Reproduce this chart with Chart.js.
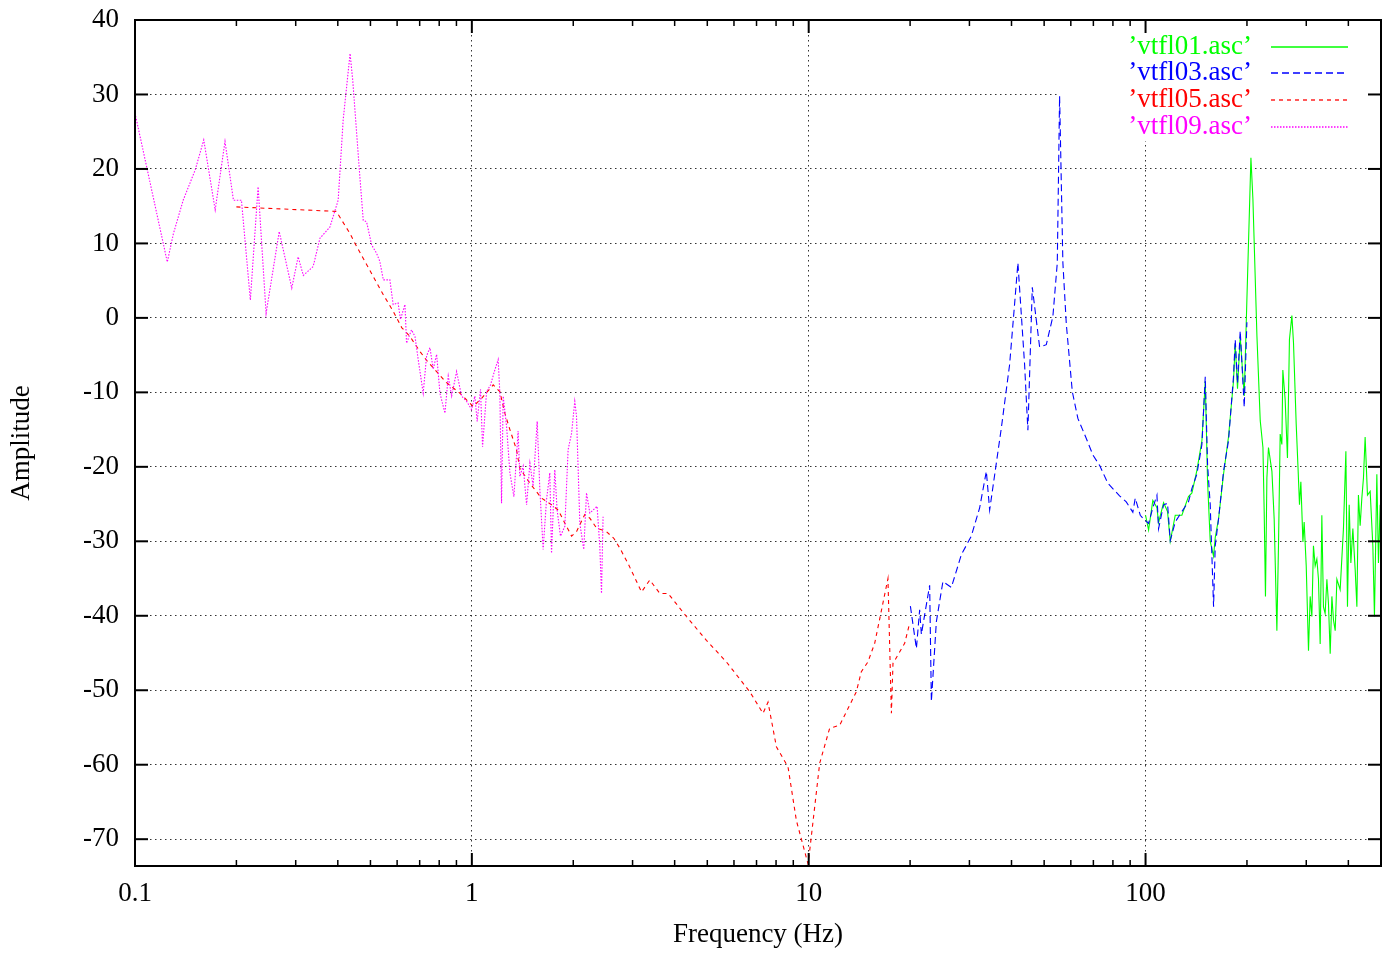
<!DOCTYPE html>
<html>
<head>
<meta charset="utf-8">
<title>vtfl amplitude</title>
<script src="https://cdn.jsdelivr.net/npm/chart.js@4.4.0/dist/chart.umd.min.js"></script>
<style>
  html, body { margin: 0; padding: 0; background: #fff; }
</style>
</head>
<body>
<canvas id="chart" width="1390" height="955"></canvas>
<script>
// Frequency (Hz) / amplitude pairs

const vtfl01Freq = [100.0, 102.1, 105.1, 108.1, 109.3, 113.1, 116.2, 118.4, 122.5, 128.2,
  134.1, 137.3, 142.0, 147.0, 150.4, 152.8, 155.6, 159.2, 161.0, 164.7,
  170.4, 176.3, 182.4, 184.6, 187.5, 191.0, 196.3, 199.9, 205.5, 208.3,
  214.1, 219.0, 223.1, 225.0, 227.0, 229.2, 231.7, 237.2, 240.9, 245.4,
  248.1, 251.0, 253.9, 255.6, 259.7, 263.8, 267.4, 271.9, 274.9, 280.0,
  283.3, 286.4, 289.1, 293.2, 295.7, 299.9, 304.6, 308.1, 311.7, 315.1,
  318.8, 322.5, 326.1, 329.9, 333.7, 337.4, 341.3, 345.4, 349.1, 353.3,
  357.4, 361.4, 365.6, 369.8, 378.2, 386.8, 393.3, 397.6, 402.3, 406.9,
  412.5, 419.1, 424.0, 428.5, 433.6, 438.6, 443.5, 448.6, 455.8, 464.3,
  472.9, 478.1, 486.0, 491.4, 497.1];
const vtfl01Amp = [-26.5, -28.5, -24.5, -25.5, -27.5, -24.8, -26.0, -30.0, -26.5, -26.5,
  -24.0, -23.5, -20.5, -16.5, -8.5, -22.0, -30.0, -32.0, -29.5, -27.0,
  -21.0, -16.0, -8.5, -3.5, -9.5, -2.5, -10.5, 2.4, 21.5, 16.0,
  -2.4, -13.8, -17.4, -26.0, -37.4, -21.5, -17.4, -20.6, -27.0, -42.0,
  -30.6, -15.6, -17.0, -7.0, -11.0, -18.8, -2.9, 0.3, -3.3, -14.2,
  -19.7, -25.1, -22.0, -30.1, -27.4, -33.3, -44.7, -37.4, -40.1, -30.6,
  -33.3, -32.4, -35.1, -43.8, -26.5, -38.8, -39.7, -35.1, -38.3, -45.1,
  -37.4, -40.6, -42.0, -35.1, -36.5, -28.3, -17.9, -38.8, -25.1, -32.9,
  -28.3, -33.8, -38.8, -23.8, -27.9, -24.2, -21.5, -16.0, -23.8, -23.3,
  -30.6, -40.1, -21.0, -32.9, -25.1];

const vtfl03Freq = [20.04, 20.88, 21.35, 21.60, 22.86, 23.13, 23.93, 25.03, 26.51, 28.39,
  30.39, 32.17, 33.68, 34.45, 37.31, 39.48, 40.86, 41.79, 43.75, 44.74,
  46.11, 48.47, 50.74, 53.08, 54.70, 55.57, 56.83, 58.17, 60.61, 62.97,
  66.70, 69.76, 73.03, 77.29, 83.72, 87.64, 91.67, 93.2, 96.45, 98.17,
  102.1, 105.1, 108.1, 109.3, 113.1, 116.2, 118.4, 122.5, 128.2, 134.1,
  137.3, 142.0, 147.0, 150.4, 152.8, 155.6, 159.2, 161.0, 164.7, 170.4,
  176.3, 182.4, 184.6, 187.5, 191.0, 196.3, 199.9];
const vtfl03Amp = [-38.7, -44.4, -39.2, -42.5, -35.9, -51.5, -40.8, -35.4, -36.2, -31.8,
  -29.3, -25.5, -20.6, -25.8, -14.8, -6.3, 1.9, 7.4, -6.3, -15.1,
  4.1, -3.9, -3.6, 0.2, 7.4, 29.8, 7.4, -0.8, -9.9, -13.5,
  -16.2, -18.4, -19.8, -22.2, -23.9, -24.7, -26.1, -24.2, -26.5, -26.9,
  -27.6, -25.5, -23.8, -28.3, -25.1, -24.9, -29.9, -27.4, -26.0, -24.7,
  -22.9, -21.0, -17.0, -7.9, -19.7, -25.1, -38.8, -30.6, -27.0, -20.6,
  -16.5, -7.9, -2.9, -8.8, -1.7, -12.0, -0.6];

const vtfl05Freq = [0.200, 0.396, 0.435, 0.450, 0.546, 0.584, 0.619, 0.655, 0.701, 0.734,
  0.768, 0.841, 0.921, 1.009, 1.069, 1.157, 1.211, 1.253, 1.297, 1.357,
  1.388, 1.487, 1.610, 1.724, 1.804, 1.910, 1.977, 2.045, 2.164, 2.240,
  2.344, 2.509, 2.639, 2.749, 2.910, 3.189, 3.375, 3.614, 3.824, 4.336,
  4.970, 5.698, 6.684, 7.318, 7.572, 8.020, 8.682, 9.193, 9.952, 10.07,
  10.78, 11.54, 12.36, 13.85, 14.33, 14.99, 15.70, 17.19, 17.60, 17.79,
  19.27, 19.94];
const vtfl05Amp = [14.9, 14.3, 11.3, 10.0, 3.1, 0.9, -1.3, -2.5, -4.5, -5.7,
  -6.7, -8.7, -10.1, -11.9, -10.8, -9.0, -9.9, -12.8, -15.0, -17.7,
  -20.2, -22.2, -24.2, -25.1, -25.8, -28.0, -29.3, -28.7, -26.4, -26.9,
  -28.2, -28.7, -29.6, -30.9, -33.0, -36.8, -35.2, -37.0, -37.0, -40.1,
  -43.3, -46.2, -50.2, -53.1, -51.6, -57.6, -60.3, -67.5, -73.3, -71.5,
  -59.8, -55.1, -54.7, -50.2, -47.5, -46.2, -43.7, -35.0, -53.1, -46.4,
  -43.7, -41.0];

const vtfl09Freq = [0.100, 0.1247, 0.130, 0.139, 0.151, 0.160, 0.173, 0.185, 0.196, 0.207,
  0.220, 0.232, 0.245, 0.268, 0.292, 0.305, 0.316, 0.338, 0.354, 0.379,
  0.401, 0.415, 0.435, 0.443, 0.465, 0.476, 0.487, 0.504, 0.521, 0.533,
  0.546, 0.571, 0.584, 0.604, 0.614, 0.633, 0.640, 0.662, 0.678, 0.693,
  0.717, 0.734, 0.751, 0.768, 0.786, 0.804, 0.832, 0.851, 0.871, 0.901,
  0.932, 0.965, 0.998, 1.021, 1.037, 1.061, 1.076, 1.106, 1.136, 1.170,
  1.197, 1.211, 1.225, 1.239, 1.268, 1.297, 1.333, 1.372, 1.388, 1.420,
  1.454, 1.487, 1.520, 1.563, 1.592, 1.628, 1.666, 1.704, 1.724, 1.763,
  1.791, 1.833, 1.888, 1.931, 1.977, 2.021, 2.045, 2.092, 2.149, 2.190,
  2.240, 2.354, 2.398, 2.426, 2.452];
const vtfl09Amp = [27.5, 7.5, 11.3, 15.8, 19.9, 23.9, 14.5, 23.7, 15.8, 15.8,
  2.4, 17.6, 0.6, 11.6, 4.0, 8.2, 5.7, 6.9, 10.7, 12.2,
  15.8, 26.6, 35.5, 31.9, 19.0, 13.1, 12.9, 9.8, 8.7, 7.6,
  5.1, 5.1, 1.8, 2.0, -0.2, 1.8, -3.4, -1.6, -2.5, -5.6,
  -10.1, -5.1, -4.0, -6.9, -4.9, -10.1, -12.8, -7.8, -10.5, -7.2,
  -10.5, -11.2, -12.3, -10.5, -13.9, -9.6, -17.3, -9.9, -9.0, -7.0,
  -5.6, -10.1, -24.9, -10.5, -14.6, -20.8, -24.0, -15.2, -21.3, -19.9,
  -25.1, -19.5, -22.6, -13.9, -23.1, -31.1, -24.4, -20.8, -31.6, -20.4,
  -25.8, -29.3, -28.0, -17.7, -15.5, -11.2, -13.2, -27.6, -31.1, -23.5,
  -26.2, -25.3, -30.7, -37.0, -26.7];

const seriesNames = ['\u2019vtfl01.asc\u2019', '\u2019vtfl03.asc\u2019', '\u2019vtfl05.asc\u2019', '\u2019vtfl09.asc\u2019'];
const seriesColors = ['#00ff00', '#0000ff', '#ff0000', '#ff00ff'];
const seriesDash = [[], [7, 4], [4, 4], [1.5, 1.5]];

const xMajorTicks = [0.1, 1, 10, 100];
const xMinorTicks = [0.2, 0.3, 0.4, 0.5, 0.6, 0.7, 0.8, 0.9,
  2, 3, 4, 5, 6, 7, 8, 9, 20, 30, 40, 50, 60, 70, 80, 90, 200, 300, 400];
const yTicks = [40, 30, 20, 10, 0, -10, -20, -30, -40, -50, -60, -70];

const FONT = "'Liberation Serif', 'DejaVu Serif', serif";
const FONT_SIZE = 27;

function points(freq, amp) {
  return freq.map((f, i) => ({ x: f, y: amp[i] }));
}

function makeSet(idx, freq, amp) {
  return {
    label: seriesNames[idx],
    data: points(freq, amp),
    borderColor: seriesColors[idx],
    borderWidth: 1.1,
    borderDash: seriesDash[idx],
    pointRadius: 0,
    tension: 0,
    fill: false,
    order: 4 - idx   // later files drawn on top, as gnuplot does
  };
}

// frame, inward ticks on all four sides, and the key box
const gnuplotFrame = {
  id: 'gnuplotFrame',
  beforeDatasetsDraw(chart) {
    const { ctx, chartArea: a } = chart;
    ctx.save();
    // opaque key area hides the grid behind it
    ctx.fillStyle = '#fff';
    ctx.fillRect(1058, a.top + 1, a.right - 1058, 140 - a.top);
    ctx.font = FONT_SIZE + 'px ' + FONT;
    ctx.textAlign = 'right';
    ctx.textBaseline = 'middle';
    seriesNames.forEach((name, i) => {
      const y = 46.5 + i * 26.8;
      ctx.fillStyle = seriesColors[i];
      ctx.fillText(name, 1252, y);
      ctx.strokeStyle = seriesColors[i];
      ctx.lineWidth = 1.3;
      ctx.setLineDash(seriesDash[i]);
      ctx.beginPath();
      ctx.moveTo(1271, Math.round(y));
      ctx.lineTo(1348, Math.round(y));
      ctx.stroke();
    });
    ctx.restore();
  },
  afterDatasetsDraw(chart) {
    const { ctx, chartArea: a, scales } = chart;
    ctx.save();
    ctx.strokeStyle = '#000';
    ctx.setLineDash([]);
    ctx.lineWidth = 2;
    ctx.strokeRect(a.left, a.top, a.right - a.left, a.bottom - a.top);

    const tick = (x1, y1, x2, y2) => {
      ctx.beginPath();
      ctx.moveTo(x1, y1);
      ctx.lineTo(x2, y2);
      ctx.stroke();
    };
    ctx.lineWidth = 2;
    yTicks.forEach(v => {
      const y = scales.y.getPixelForValue(v);
      tick(a.left, y, a.left + 13, y);
      tick(a.right, y, a.right - 13, y);
    });
    xMajorTicks.forEach(v => {
      const x = scales.x.getPixelForValue(v);
      tick(x, a.bottom, x, a.bottom - 13);
      tick(x, a.top, x, a.top + 13);
    });
    ctx.lineWidth = 1.5;
    xMinorTicks.forEach(v => {
      const x = scales.x.getPixelForValue(v);
      tick(x, a.bottom, x, a.bottom - 6);
      tick(x, a.top, x, a.top + 6);
    });
    ctx.restore();
  }
};

const gridStyle = { color: '#333', lineWidth: 1, drawTicks: false };

new Chart(document.getElementById('chart'), {
  type: 'line',
  data: {
    datasets: [
      makeSet(0, vtfl01Freq, vtfl01Amp),
      makeSet(1, vtfl03Freq, vtfl03Amp),
      makeSet(2, vtfl05Freq, vtfl05Amp),
      makeSet(3, vtfl09Freq, vtfl09Amp)
    ]
  },
  options: {
    responsive: false,
    animation: false,
    layout: { padding: { left: 0, right: 9, top: 20, bottom: 0 } },
    plugins: { legend: { display: false }, tooltip: { enabled: false } },
    scales: {
      x: {
        type: 'logarithmic',
        min: 0.1,
        max: 500,
        afterBuildTicks: s => { s.ticks = xMajorTicks.map(v => ({ value: v })); },
        afterFit: s => { s.height = 89; s.paddingLeft = 0; s.paddingRight = 0; },
        grid: gridStyle,
        border: { display: false, dash: [1.5, 3.5] },
        ticks: {
          color: '#000',
          font: { family: FONT, size: FONT_SIZE },
          padding: 12,
          maxRotation: 0,
          autoSkip: false,
          callback: v => String(v)
        },
        title: {
          display: true,
          text: 'Frequency (Hz)',
          color: '#000',
          font: { family: FONT, size: FONT_SIZE },
          padding: { top: 0, bottom: 4 }
        }
      },
      y: {
        type: 'linear',
        min: -73.6,
        max: 40,
        afterBuildTicks: s => { s.ticks = yTicks.map(v => ({ value: v })); },
        afterFit: s => { s.width = 135; s.paddingTop = 0; s.paddingBottom = 0; },
        grid: gridStyle,
        border: { display: false, dash: [1.5, 3.5] },
        ticks: {
          color: '#000',
          font: { family: FONT, size: FONT_SIZE },
          padding: 16,
          callback: v => String(v)
        },
        title: {
          display: true,
          text: 'Amplitude',
          color: '#000',
          font: { family: FONT, size: FONT_SIZE },
          padding: { top: 6, bottom: 0 }
        }
      }
    }
  },
  plugins: [gnuplotFrame]
});
</script>
</body>
</html>
